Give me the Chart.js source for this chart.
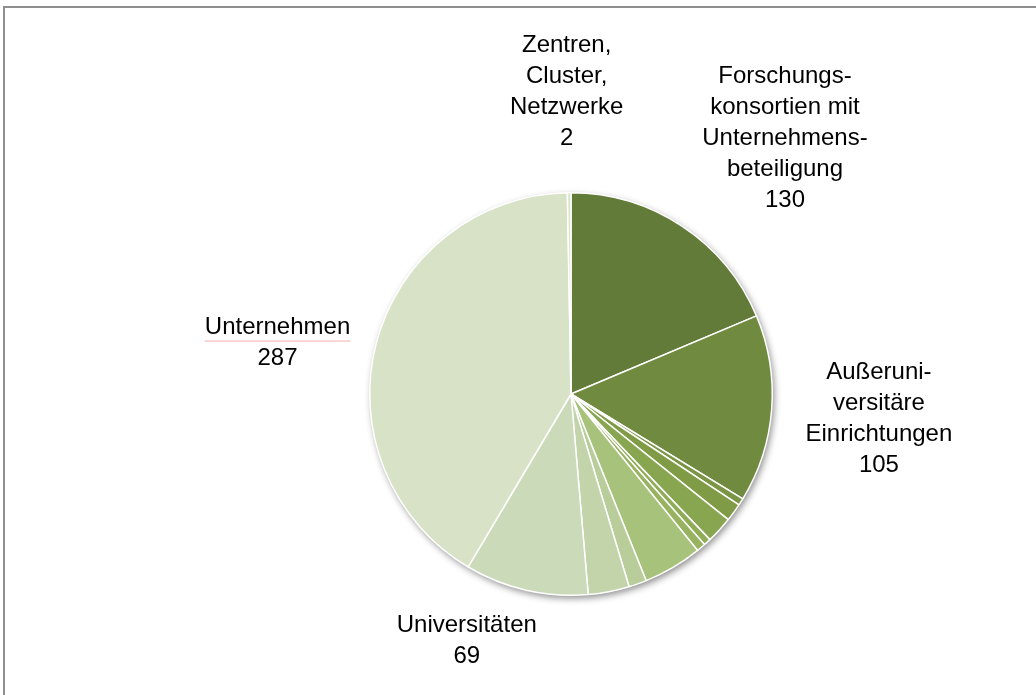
<!DOCTYPE html>
<html>
<head>
<meta charset="utf-8">
<script src="https://cdn.jsdelivr.net/npm/chart.js@4.4.1/dist/chart.umd.min.js"></script>
<style>
  html, body { margin: 0; padding: 0; background: #fff; }
  #wrap { position: relative; width: 1036px; height: 695px; overflow: hidden; }
  #frame { position: absolute; left: 3px; top: 6px; width: 1100px; height: 800px; border: 2px solid #8e8e8e; box-sizing: border-box; }
  #chart { position: absolute; left: 0; top: 0; }
</style>
</head>
<body>
<div id="wrap">
  <div id="frame"></div>
  <canvas id="chart" width="1036" height="695"></canvas>
</div>
<script>
// --- Daten: Partner nach Art (im Uhrzeigersinn ab 12 Uhr) ---
const categories = [
  'Forschungskonsortien mit Unternehmensbeteiligung',
  'Außeruniversitäre Einrichtungen',
  'Sonstige 1', 'Sonstige 2', 'Sonstige 3', 'Sonstige 4',
  'Sonstige 5', 'Sonstige 6', 'Sonstige 7', 'Sonstige 8',
  'Universitäten',
  'Unternehmen',
  'Zentren, Cluster, Netzwerke'
];
const values = [130, 105, 4, 10, 15, 4, 5, 33, 10, 23, 69, 287, 2];

// Beschriftungszeilen (null = ohne Beschriftung)
const labelLines = [
  ['Forschungs-', 'konsortien mit', 'Unternehmens-', 'beteiligung'],
  ['Außeruni-', 'versitäre', 'Einrichtungen'],
  null, null, null, null, null, null, null, null,
  ['Universitäten'],
  ['Unternehmen'],
  ['Zentren,', 'Cluster,', 'Netzwerke']
];

const colors = [
  '#637b38', '#708a3f', '#7a9543', '#7f9b46', '#88a64f', '#8fad57',
  '#97b360', '#a7c27a', '#b9cd9a', '#c3d4ab', '#cbdab8', '#d7e2c6', '#dbe4cc'
];

// Lage der Beschriftung: Abstand (x Radius) und Winkelversatz in Grad
const labelPlace = {
  0:  { dist: 1.655, shift: 6.4 },
  1:  { dist: 1.535, shift: 0.4 },
  10: { dist: 1.33,  shift: 10 },
  11: { dist: 1.48,  shift: -5 },
  12: { dist: 1.5,   shift: -0.3 }
};

const FONT = '24px "Liberation Sans", Arial, sans-serif';
const LINE_H = 31;

const sliceLabels = {
  id: 'sliceLabels',
  beforeDatasetsDraw(chart) {
    // weicher Schatten unter der Torte
    const arc = chart.getDatasetMeta(0).data[0];
    const ctx = chart.ctx;
    ctx.save();
    ctx.beginPath();
    ctx.arc(arc.x, arc.y, arc.outerRadius, 0, Math.PI * 2);
    ctx.fillStyle = '#fff';
    ctx.shadowColor = 'rgba(0,0,0,0.45)';
    ctx.shadowBlur = 7;
    ctx.shadowOffsetX = 2;
    ctx.shadowOffsetY = 3;
    ctx.fill();
    ctx.restore();
  },
  afterDatasetsDraw(chart) {
    const ctx = chart.ctx;
    const meta = chart.getDatasetMeta(0);
    ctx.save();
    ctx.font = FONT;
    ctx.fillStyle = '#000';
    ctx.textAlign = 'center';
    ctx.textBaseline = 'middle';
    meta.data.forEach((arc, i) => {
      const lines = labelLines[i];
      if (!lines) return;
      const p = labelPlace[i];
      const mid = (arc.startAngle + arc.endAngle) / 2 + p.shift * Math.PI / 180;
      const cx = arc.x + Math.cos(mid) * arc.outerRadius * p.dist;
      const cy = arc.y + Math.sin(mid) * arc.outerRadius * p.dist;
      const all = lines.concat(String(values[i]));
      const top = cy - (all.length - 1) * LINE_H / 2;
      all.forEach((t, k) => ctx.fillText(t, cx, top + k * LINE_H));
      // rote Wellenlinie der Rechtschreibprüfung unter "Unternehmen"
      if (categories[i] === 'Unternehmen') {
        const w = ctx.measureText(lines[0]).width;
        ctx.strokeStyle = 'rgba(230,110,110,0.55)';
        ctx.lineWidth = 1;
        ctx.beginPath();
        ctx.moveTo(cx - w / 2, top + 13.5);
        ctx.lineTo(cx + w / 2, top + 13.5);
        ctx.stroke();
      }
    });
    ctx.restore();
  }
};

new Chart(document.getElementById('chart'), {
  type: 'pie',
  data: {
    labels: categories,
    datasets: [{
      data: values,
      backgroundColor: colors,
      borderColor: '#ffffff',
      borderWidth: 1.5
    }]
  },
  options: {
    responsive: false,
    animation: false,
    layout: { padding: { left: 369, right: 263, top: 192, bottom: 99 } },
    plugins: {
      legend: { display: false },
      tooltip: { enabled: false }
    }
  },
  plugins: [sliceLabels]
});
</script>
</body>
</html>
